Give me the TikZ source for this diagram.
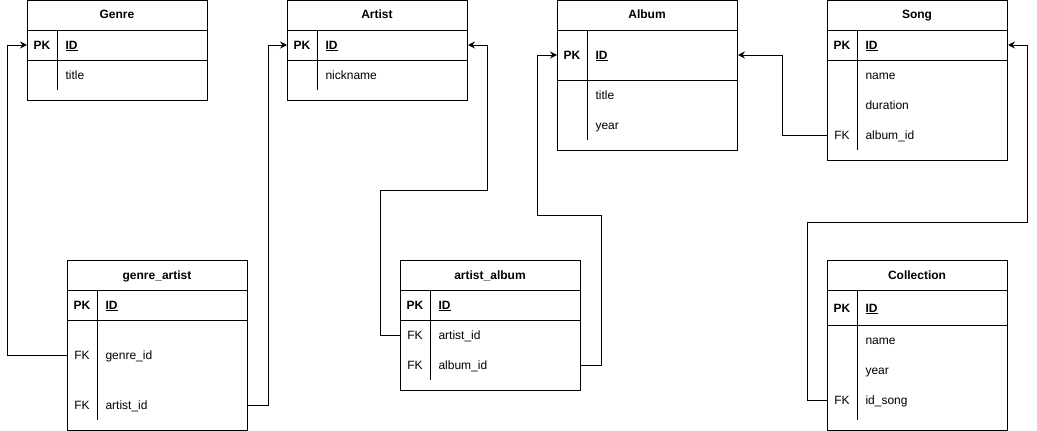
\documentclass[tikz,border=0pt]{standalone}
\usepackage{fontspec}
\setmainfont{Liberation Sans}
\usetikzlibrary{arrows.meta}
\begin{document}
\begin{tikzpicture}[
    x=1pt, y=-1pt, line width=1pt,
    font=\fontsize{12}{14}\selectfont,
    table/.style={rectangle, draw, minimum width=180pt, anchor=north west, inner sep=0pt},
    txt/.style={inner sep=0pt, text height=9pt, text depth=1pt},
    head/.style={txt, font=\fontsize{12}{14}\selectfont\bfseries},
    key/.style={txt, font=\fontsize{12}{14}\selectfont\bfseries},
    fkey/.style={txt},
    field/.style={txt, anchor=west},
    fk/.style={->, >={Stealth[length=7pt, width=7pt, inset=2.5pt]}, line width=1pt}
]
\useasboundingbox (0,0) rectangle (1037,431);

% Tables
\node[table, minimum height=100pt] (genre) at (27,0)   {};
\node[table, minimum height=100pt] (artist) at (287,0) {};
\node[table, minimum height=150pt] (album) at (557,0)  {};
\node[table, minimum height=160pt] (song) at (827,0)   {};
\node[table, minimum height=170pt] (ga) at (67,260)    {};
\node[table, minimum height=130pt] (aa) at (400,260)   {};
\node[table, minimum height=170pt] (coll) at (827,260) {};

% Row separators
\foreach \x/\y in {27/30, 27/60, 287/30, 287/60, 557/30, 557/80, 827/30, 827/60,
                   67/290, 67/320, 400/290, 400/320, 827/290, 827/325}
    \draw (\x,\y) -- ++(180,0);

% Key column dividers
\foreach \x/\a/\b in {57/30/90, 317/30/90, 587/30/140, 857/30/150,
                      97/290/420, 430/290/380, 857/290/420}
    \draw (\x,\a) -- (\x,\b);

% Genre
\node[head] (genre-title) at (117,15) {Genre};
\node[key] (genre-pk) at (42,45) {PK};
\node[field] (genre-id) at (65,45) {\bfseries\underline{ID}};
\node[field] (genre-f1) at (65,75) {title};

% Artist
\node[head] (artist-title) at (377,15) {Artist};
\node[key] (artist-pk) at (302,45) {PK};
\node[field] (artist-id) at (325,45) {\bfseries\underline{ID}};
\node[field] (artist-f1) at (325,75) {nickname};

% Album
\node[head] (album-title) at (647,15) {Album};
\node[key] (album-pk) at (572,55) {PK};
\node[field] (album-id) at (595,55) {\bfseries\underline{ID}};
\node[field] (album-f1) at (595,95) {title};
\node[field] (album-f2) at (595,125) {year};

% Song
\node[head] (song-title) at (917,15) {Song};
\node[key] (song-pk) at (842,45) {PK};
\node[field] (song-id) at (865,45) {\bfseries\underline{ID}};
\node[field] (song-f1) at (865,75) {name};
\node[field] (song-f2) at (865,105) {duration};
\node[fkey] (song-fk) at (842,135) {FK};
\node[field] (song-f3) at (865,135) {album\_id};

% genre_artist
\node[head] (ga-title) at (157,275) {genre\_artist};
\node[key] (ga-pk) at (82,305) {PK};
\node[field] (ga-id) at (105,305) {\bfseries\underline{ID}};
\node[fkey] (ga-fk1) at (82,355) {FK};
\node[field] (ga-f1) at (105,355) {genre\_id};
\node[fkey] (ga-fk2) at (82,405) {FK};
\node[field] (ga-f2) at (105,405) {artist\_id};

% artist_album
\node[head] (aa-title) at (490,275) {artist\_album};
\node[key] (aa-pk) at (415,305) {PK};
\node[field] (aa-id) at (438,305) {\bfseries\underline{ID}};
\node[fkey] (aa-fk1) at (415,335) {FK};
\node[field] (aa-f1) at (438,335) {artist\_id};
\node[fkey] (aa-fk2) at (415,365) {FK};
\node[field] (aa-f2) at (438,365) {album\_id};

% Collection
\node[head] (coll-title) at (917,275) {Collection};
\node[key] (coll-pk) at (842,308) {PK};
\node[field] (coll-id) at (865,308) {\bfseries\underline{ID}};
\node[field] (coll-f1) at (865,340) {name};
\node[field] (coll-f2) at (865,370) {year};
\node[fkey] (coll-fk) at (842,400) {FK};
\node[field] (coll-f3) at (865,400) {id\_song};

% Foreign keys
\draw[fk] (ga.west |- ga-fk1) -- ++(-60,0) |- (genre.west |- genre-pk);
\draw[fk] (ga.east |- ga-fk2) -- ++(20,0) |- (artist.west |- artist-pk);
\draw[fk] (aa.west |- aa-fk1) -- ++(-20,0) |- (487,190) |- (artist.east |- artist-pk);
\draw[fk] (aa.east |- aa-fk2) -- ++(20,0) |- (537,215) |- (album.west |- album-pk);
\draw[fk] (song.west |- song-fk) -- ++(-45,0) |- (album.east |- album-pk);
\draw[fk] (coll.west |- coll-fk) -- ++(-20,0) |- (1027,222) |- (song.east |- song-pk);

\end{tikzpicture}
\end{document}
